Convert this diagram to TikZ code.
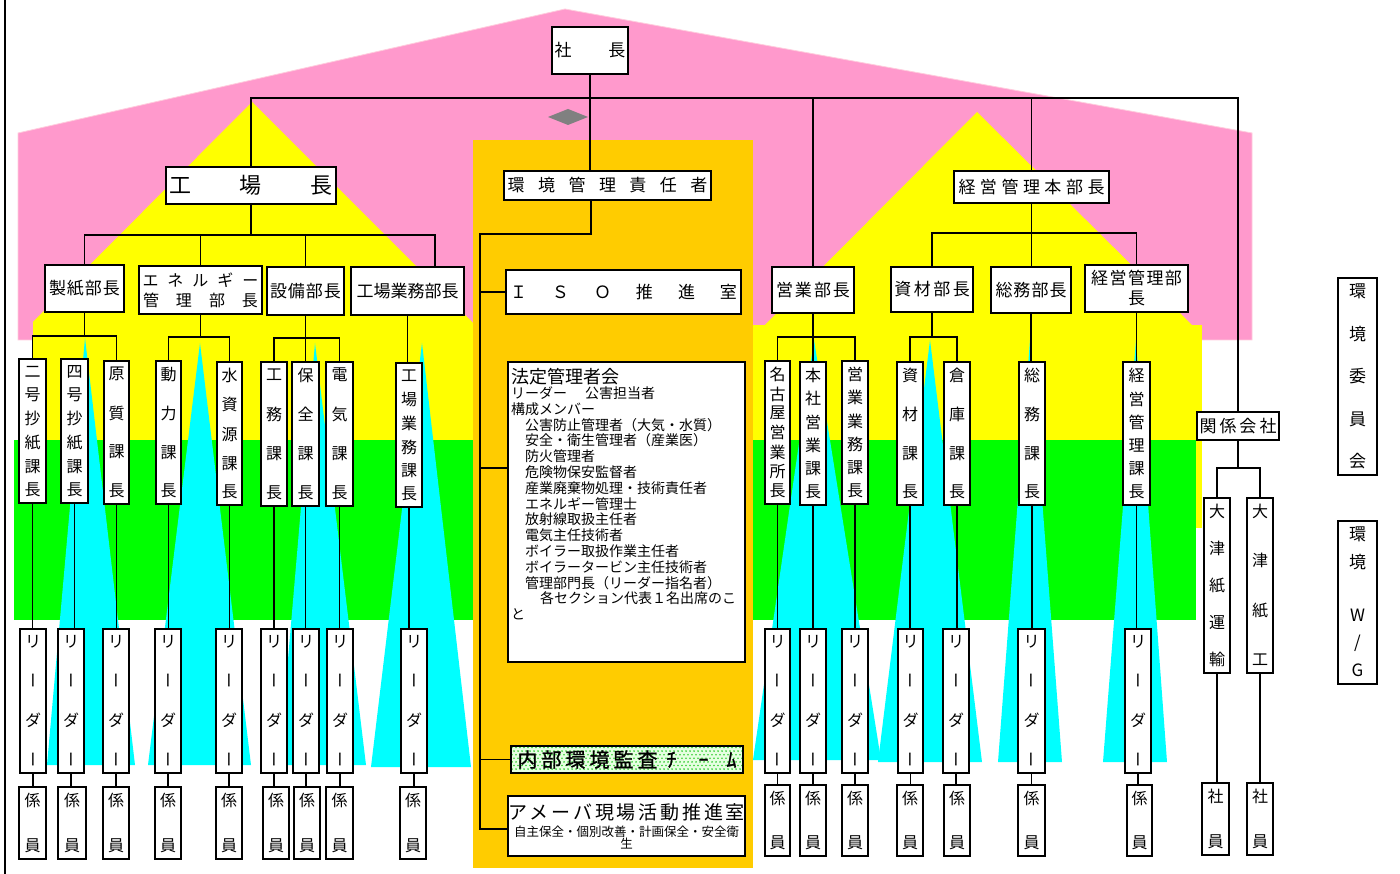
\documentclass[tikz,border=0pt]{standalone}
\usepackage{fontspec}
\usepackage{graphicx}
\setmainfont{Noto Sans CJK JP}
\makeatletter
\newcommand\lsp[2]{\let\ls@sep\relax\@tfor\ls@c:=#2\do{\ls@sep\ls@c\def\ls@sep{\hspace{#1}}}}
\newcommand\vstack[2]{\vbox to #1{\offinterlineskip\let\vs@sep\relax\@tfor\vs@c:=#2\do{\vs@sep\hbox to 22pt{\hss\vphantom{国}\vs@c\hss}\def\vs@sep{\vfill}}}}
\makeatother
\newcommand\vbar{\rotatebox[origin=c]{90}{\rule[-0.12em]{0pt}{1em}ー}}
\definecolor{pinkc}{HTML}{FF99CC}
\definecolor{pinkedge}{HTML}{FFCCDD}
\definecolor{yel}{HTML}{FFFF00}
\definecolor{grn}{HTML}{00FF00}
\definecolor{org}{HTML}{FFCC00}
\definecolor{cy}{HTML}{00FFFF}
\definecolor{dia}{HTML}{808080}
\definecolor{dotbg}{RGB}{230,255,225}
\definecolor{dotc}{RGB}{50,205,50}
\tikzset{
  obox/.style={draw=black, line width=1.2pt, fill=white, inner sep=0pt, outer sep=0pt},
  ln/.style={line width=1.1pt, draw=black},
  hf/.style={font=\fontsize{17}{20}\selectfont},
  vf/.style={font=\fontsize{16}{19}\selectfont},
}
\newcommand\hb[7][]{\node[obox,hf,minimum width={(#5-#3)*1pt},minimum height={(#6-#4)*1pt},#1] (#2) at ({(#3+#5)/2},{(#4+#6)/2}) {#7};}
\newcommand\vb[7][]{\node[obox,vf,minimum width={(#5-#3)*1pt},minimum height={(#6-#4)*1pt},#1] (#2) at ({(#3+#5)/2},{(#4+#6)/2}) {\vstack{\dimexpr#6pt-#4pt-13pt\relax}{#7}};}
\begin{document}
\begin{tikzpicture}[x=1pt,y=-1pt]
\fill[white] (0,0) rectangle (1400,874);
\useasboundingbox (0,0) rectangle (1400,874);
% background shapes
\draw[line width=2pt] (5,0) -- (5,874);
\fill[pinkc, draw=pinkedge, line width=0.8pt] (18,133) -- (565,9) -- (1252,133) -- (1252,340) -- (18,340) -- cycle;
\fill[yel] (33,322) -- (252,102) -- (480,330) -- (33,330) -- cycle;
\fill[yel] (755,335) -- (977,112) -- (1197,330) -- cycle;
\fill[yel] (33,325) rectangle (1202,528);
\fill[grn] (14,440) rectangle (1196,620);
\fill[org] (473,140) rectangle (753,868);
\fill[cy] (85,338) -- (47,765) -- (135,765) -- cycle;
\fill[cy] (200,343) -- (148,765) -- (251,765) -- cycle;
\fill[cy] (315,343) -- (279,765) -- (366,765) -- cycle;
\fill[cy] (422,343) -- (371,767) -- (471,767) -- cycle;
\fill[cy] (814,340) -- (753,760) -- (881,760) -- cycle;
\fill[cy] (930,340) -- (878,762) -- (982,762) -- cycle;
\fill[cy] (1030,340) -- (998,762) -- (1062,762) -- cycle;
\fill[cy] (1136,340) -- (1103,762) -- (1167,762) -- cycle;
\fill[dia] (548,117) -- (568,109) -- (588,117) -- (568,125) -- cycle;
% dotted fill of the audit team box
\begin{scope}
\clip (511,746) rectangle (743,773);
\fill[dotbg] (511,746) rectangle (743,773);
\foreach \j in {0,...,7}{\foreach \i in {0,...,58}{\fill[dotc] ({512+4*\i+2*mod(\j,2)},{747.5+3.6*\j}) circle (0.9);}}
\end{scope}
% top level boxes
\hb{shacho}{552}{27}{628}{74}{社\hspace{37pt}長}
\hb[font=\fontsize{22}{26}\selectfont]{koujou}{166}{167}{336}{204}{\lsp{49pt}{工場長}}
\hb{kankyo}{504}{171}{711}{200}{\lsp{13.5pt}{環境管理責任者}}
\hb{keieihon}{954}{171}{1109}{203}{\lsp{4.5pt}{経営管理本部長}}
\hb{seishi}{45}{265}{124}{312}{\lsp{1pt}{製紙部長}}
\hb{energy}{139}{266}{262}{314}{\parbox{123pt}{\centering\fontsize{16}{20}\selectfont\lsp{9pt}{エネルギー}\\\lsp{17pt}{管理部長}}}
\hb{setsubi}{267}{267}{344}{315}{\lsp{1pt}{設備部長}}
\hb{gyomubu}{351}{267}{464}{315}{工場業務部長}
\hb{iso}{506}{270}{741}{314}{\lsp{25pt}{ＩＳＯ推進室}}
\hb{eigyo}{772}{267}{854}{313}{\lsp{2pt}{営業部長}}
\hb{shizai}{891}{267}{973}{312}{\lsp{2.5pt}{資材部長}}
\hb{soumu}{991}{267}{1071}{313}{\lsp{1pt}{総務部長}}
\hb{keieibu}{1085}{265}{1188}{312}{\parbox{103pt}{\centering\lsp{1.5pt}{経営管理部}\\長}}
\hb{kankei}{1197}{412}{1279}{440}{\lsp{3pt}{関係会社}}
\hb{hotei}{508}{362}{745}{662}{}
\hb[fill=none]{naibu}{511}{746}{743}{773}{\fontsize{20}{22}\selectfont\addfontfeature{FakeBold=1.2}\lsp{4pt}{内部環境監査}\hspace{9pt}ﾁ\hspace{22pt}ｰ\hspace{18pt}ﾑ}
\hb{ameba}{508}{796}{745}{856}{\parbox{235pt}{\centering\makebox[235pt][c]{\fontsize{19}{22}\selectfont\lsp{2.8pt}{アメーバ現場活動推進室}}\\[4pt]\fontsize{12.5}{12}\selectfont 自主保全・個別改善・計画保全・安全衛\\生}}
\node[anchor=base west, inner sep=0pt, font=\fontsize{14}{15.8}\selectfont] (hoteitxt) at (511,384) {\parbox[t]{234pt}{\raggedright
{\fontsize{18}{15.8}\selectfont 法定管理者会}\\[-1.3pt]%
リーダー\hspace{18pt}公害担当者\\%
構成メンバー\\%
\hspace*{14pt}公害防止管理者（大気・水質）\\%
\hspace*{14pt}安全・衛生管理者（産業医）\\%
\hspace*{14pt}防火管理者\\%
\hspace*{14pt}危険物保安監督者\\%
\hspace*{14pt}産業廃棄物処理・技術責任者\\%
\hspace*{14pt}エネルギー管理士\\%
\hspace*{14pt}放射線取扱主任者\\%
\hspace*{14pt}電気主任技術者\\%
\hspace*{14pt}ボイラー取扱作業主任者\\%
\hspace*{14pt}ボイラータービン主任技術者\\%
\hspace*{14pt}管理部門長（リーダー指名者）\\%
\hspace*{29pt}各セクション代表１名出席のこ\\%
と}};
% section chiefs (vertical text)
\vb{nigo}{19}{359}{46}{503}{二号抄紙課長}
\vb{yongo}{61}{359}{88}{503}{四号抄紙課長}
\vb{genshitsu}{104}{361}{129}{504}{原質課長}
\vb{douryoku}{156}{361}{181}{504}{動力課長}
\vb{mizu}{217}{362}{242}{505}{水資源課長}
\vb{koumu}{261}{362}{287}{506}{工務課長}
\vb{hozen}{292}{362}{319}{506}{保全課長}
\vb{denki}{326}{362}{353}{506}{電気課長}
\vb{gyomuka}{396}{363}{422}{507}{工場業務課長}
\vb{nagoya}{765}{361}{790}{504}{名古屋営業所長}
\vb{honsha}{800}{362}{826}{505}{本社営業課長}
\vb{eigyogyomu}{842}{361}{868}{504}{営業業務課長}
\vb{shizaika}{897}{362}{923}{505}{資材課長}
\vb{souko}{944}{362}{970}{505}{倉庫課長}
\vb{soumuka}{1019}{362}{1045}{505}{総務課長}
\vb{keieika}{1123}{362}{1150}{505}{経営管理課長}
\vb{otsu1}{1204}{498}{1230}{673}{大津紙運輸}
\vb{otsu2}{1247}{498}{1273}{673}{大津紙工}
\vb[font=\fontsize{17}{20}\selectfont]{iinkai}{1338}{278}{1377}{475}{環境委員会}
\vb[font=\fontsize{17}{20}\selectfont]{wg}{1338}{521}{1377}{684}{環境{}W/G}
% leaders
\vb{l1}{20}{629}{46}{773}{リ{\vbar}ダ{\vbar}}
\vb{l2}{58}{629}{84}{773}{リ{\vbar}ダ{\vbar}}
\vb{l3}{103}{629}{129}{773}{リ{\vbar}ダ{\vbar}}
\vb{l4}{155}{629}{181}{773}{リ{\vbar}ダ{\vbar}}
\vb{l5}{216}{629}{242}{773}{リ{\vbar}ダ{\vbar}}
\vb{l6}{261}{629}{287}{773}{リ{\vbar}ダ{\vbar}}
\vb{l7}{293}{629}{319}{773}{リ{\vbar}ダ{\vbar}}
\vb{l8}{327}{629}{353}{773}{リ{\vbar}ダ{\vbar}}
\vb{l9}{401}{629}{427}{773}{リ{\vbar}ダ{\vbar}}
\vb{l10}{765}{629}{790}{773}{リ{\vbar}ダ{\vbar}}
\vb{l11}{800}{629}{826}{773}{リ{\vbar}ダ{\vbar}}
\vb{l12}{842}{629}{868}{773}{リ{\vbar}ダ{\vbar}}
\vb{l13}{898}{629}{923}{773}{リ{\vbar}ダ{\vbar}}
\vb{l14}{943}{629}{969}{773}{リ{\vbar}ダ{\vbar}}
\vb{l15}{1018}{629}{1045}{773}{リ{\vbar}ダ{\vbar}}
\vb{l16}{1125}{629}{1151}{773}{リ{\vbar}ダ{\vbar}}
% staff
\vb{k1}{19}{787}{46}{859}{係員}
\vb{k2}{58}{787}{86}{859}{係員}
\vb{k3}{103}{787}{129}{859}{係員}
\vb{k4}{155}{787}{181}{859}{係員}
\vb{k5}{216}{787}{242}{859}{係員}
\vb{k6}{263}{787}{289}{859}{係員}
\vb{k7}{294}{787}{320}{859}{係員}
\vb{k8}{326}{787}{353}{859}{係員}
\vb{k9}{400}{787}{426}{859}{係員}
\vb{k10}{765}{785}{790}{856}{係員}
\vb{k11}{800}{785}{826}{856}{係員}
\vb{k12}{842}{785}{868}{856}{係員}
\vb{k13}{897}{785}{923}{856}{係員}
\vb{k14}{944}{785}{970}{856}{係員}
\vb{k15}{1018}{785}{1045}{856}{係員}
\vb{k16}{1127}{785}{1152}{856}{係員}
\vb{shain1}{1202}{783}{1229}{855}{社員}
\vb{shain2}{1247}{783}{1273}{855}{社員}
% connectors: top
\coordinate (bus) at (0,98);
\draw[ln] (koujou.north) -- (koujou.north |- bus) -- (bus -| kankei.north) -- (kankei.north);
\draw[ln] (eigyo.north) -- (eigyo.north |- bus);
\draw[ln] (keieihon.north) -- (keieihon.north |- bus);
\draw[ln] (shacho.south) -- (shacho.south |- kankyo.north);
% factory
\coordinate (kb) at (0,235);
\coordinate (gyb) at ([xshift=27.5pt]gyomubu.north);
\draw[ln] (koujou.south) -- (koujou.south |- kb);
\draw[ln] (seishi.north) |- (gyb |- kb) -- (gyb);
\draw[ln] (energy.north) -- (energy.north |- kb);
\draw[ln] (setsubi.north) -- (setsubi.north |- kb);
\coordinate (b1) at (0,336);
\coordinate (b2) at (0,337);
\coordinate (b3) at (0,338);
\draw[ln] (seishi.south) -- (seishi.south |- b1);
\draw[ln] (nigo.north) |- (b1 -| genshitsu.north) -- (genshitsu.north);
\draw[ln] (energy.south) -- (energy.south |- b2);
\draw[ln] (douryoku.north) |- (b2 -| mizu.north) -- (mizu.north);
\draw[ln] (setsubi.south) -- (setsubi.south |- hozen.north);
\draw[ln] (koumu.north) |- (b3 -| denki.north) -- (denki.north);
\draw[ln] (gyomubu.south) -- (gyomubu.south |- gyomuka.north);
% management
\coordinate (kh) at (0,233);
\draw[ln] (keieihon.south) -- (keieihon.south |- soumu.north);
\draw[ln] (shizai.north) |- (kh -| keieibu.north) -- (keieibu.north);
\coordinate (b5) at (0,337);
\draw[ln] (eigyo.south) -- (eigyo.south |- honsha.north);
\draw[ln] (nagoya.north) |- (b5 -| eigyogyomu.north) -- (eigyogyomu.north);
\draw[ln] (shizai.south) -- (shizai.south |- b5);
\draw[ln] (shizaika.north) |- (b5 -| souko.north) -- (souko.north);
\draw[ln] (soumu.south) -- (soumu.south |- soumuka.north);
\draw[ln] (keieibu.south) -- (keieibu.south |- keieika.north);
\coordinate (b9) at (0,468);
\draw[ln] (kankei.south) -- (kankei.south |- b9);
\draw[ln] (otsu1.north) |- (b9 -| otsu2.north) -- (otsu2.north);
\draw[ln] (otsu1.south) -- (otsu1.south |- shain1.north);
\draw[ln] (otsu2.south) -- (otsu2.south |- shain2.north);
% environment spine
\coordinate (sT) at (480,234);
\coordinate (sB) at (480,829);
\coordinate (hy) at (0,468);
\draw[ln] ([xshift=-16.5pt]kankyo.south) |- (sT) -- (sB) -- (sB -| ameba.west);
\draw[ln] (iso.west) -- (iso.west -| sT);
\draw[ln] (sT |- hy) -- (hotei.west |- hy);
\draw[ln] (naibu.west) -- (naibu.west -| sT);
% chiefs to leaders to staff
\foreach \a/\b/\c in {nigo/l1/k1, yongo/l2/k2, genshitsu/l3/k3, douryoku/l4/k4, mizu/l5/k5, koumu/l6/k6, hozen/l7/k7, denki/l8/k8, gyomuka/l9/k9, nagoya/l10/k10, honsha/l11/k11, eigyogyomu/l12/k12, shizaika/l13/k13, souko/l14/k14, soumuka/l15/k15, keieika/l16/k16}{
  \draw[ln] (\a.south) -- (\a.south |- \b.north);
  \draw[ln] (\b.south) -- (\b.south |- \c.north);
}
\end{tikzpicture}
\end{document}
